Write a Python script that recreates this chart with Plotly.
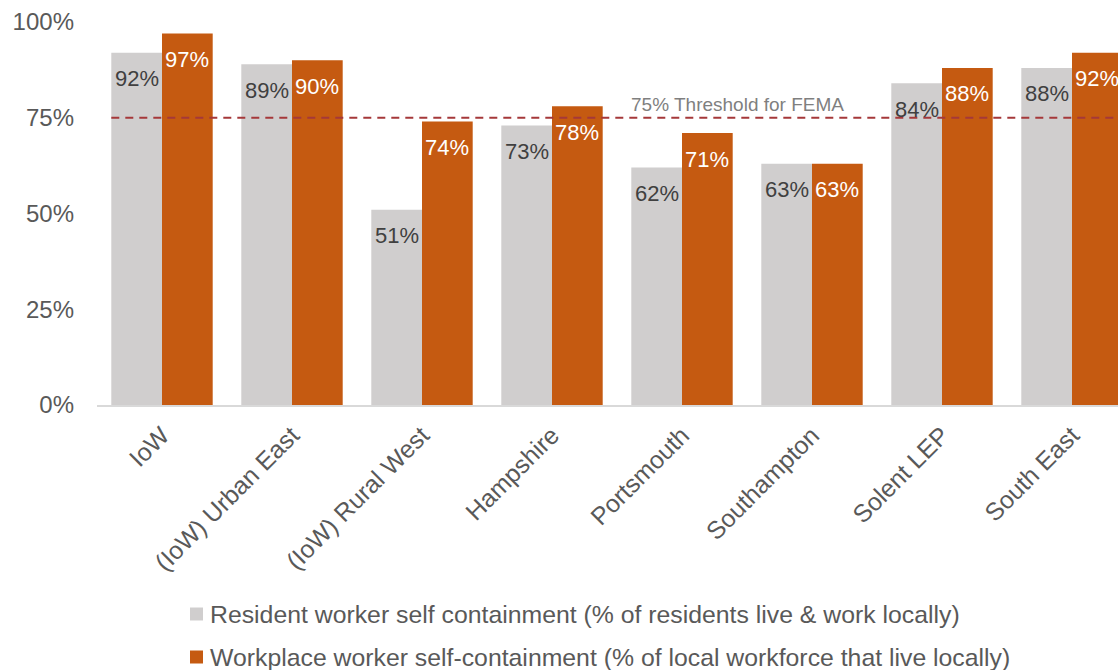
import plotly.graph_objects as go

# Self-containment rates by area (percent)
areas = ["IoW", "(IoW) Urban East", "(IoW) Rural West", "Hampshire",
         "Portsmouth", "Southampton", "Solent LEP", "South East"]
resident = [92, 89, 51, 73, 62, 63, 84, 88]
workplace = [97, 90, 74, 78, 71, 63, 88, 92]
threshold = 75
y_ticks = [0, 25, 50, 75, 100]
y_tick_text = ["0%", "25%", "50%", "75%", "100%"]

series_names = [
    "Resident worker self containment (% of residents live & work locally)",
    "Workplace worker self-containment (% of local workforce that live locally)",
]

GREY = "#D0CECE"
ORANGE = "#C55A11"
FONT = "Liberation Sans, Arial, sans-serif"
TEXT = "#595959"

W, H = 1118, 670
ML, MT, MB = 97, 22, 265
PLOT_W = W - ML
PLOT_H = H - MT - MB


def px_x(px):
    """Pixel x -> paper x."""
    return (px - ML) / PLOT_W


def px_y(py):
    """Pixel y -> paper y."""
    return (H - MB - py) / PLOT_H


fig = go.Figure()
fig.add_trace(go.Bar(x=areas, y=resident, name=series_names[0],
                     marker=dict(color=GREY, line=dict(width=0))))
fig.add_trace(go.Bar(x=areas, y=workplace, name=series_names[1],
                     marker=dict(color=ORANGE, line=dict(width=0))))

BARGAP = 0.22
half = (1 - BARGAP) / 4  # centre offset of each bar within its group

annotations = []
for i, (r, w) in enumerate(zip(resident, workplace)):
    annotations.append(dict(x=i - half, y=r, xref="x", yref="y",
                            text=f"{r}%", showarrow=False, yshift=-26,
                            font=dict(family=FONT, size=22, color="#404040")))
    annotations.append(dict(x=i + half, y=w, xref="x", yref="y",
                            text=f"{w}%", showarrow=False, yshift=-26,
                            font=dict(family=FONT, size=22, color="white")))

annotations.append(dict(x=4.43, y=threshold, xref="x", yref="y",
                        text=f"{threshold}% Threshold for FEMA",
                        showarrow=False, yanchor="bottom", yshift=1,
                        font=dict(family=FONT, size=19, color="#7F7F7F")))

x_end = -0.5 + PLOT_W / 130

shapes = [dict(type="line", xref="x", yref="y",
               x0=-0.5 + BARGAP / 2, x1=x_end, y0=threshold, y1=threshold,
               line=dict(color="#A5383A", width=2, dash="8px,6px"))]

# Legend rows below the chart: colour key square + series name
for name, color, row_y in zip(series_names, [GREY, ORANGE], [614, 657]):
    shapes.append(dict(type="rect", xref="paper", yref="paper",
                       x0=px_x(190), x1=px_x(203),
                       y0=px_y(row_y + 6.5), y1=px_y(row_y - 6.5),
                       fillcolor=color, line=dict(width=0)))
    annotations.append(dict(x=px_x(208), y=px_y(row_y), xref="paper",
                            yref="paper", text=name, showarrow=False,
                            xanchor="left", yanchor="middle",
                            font=dict(family=FONT, size=24.8, color=TEXT)))

fig.update_layout(
    width=W, height=H,
    margin=dict(l=ML, r=0, t=MT, b=MB),
    paper_bgcolor="white", plot_bgcolor="white",
    barmode="group", bargap=BARGAP, bargroupgap=0,
    font=dict(family=FONT, color=TEXT),
    annotations=annotations,
    shapes=shapes,
    showlegend=False,
    xaxis=dict(type="category", range=[-0.5, x_end], tickangle=-45,
               showline=True, linecolor="#D9D9D9", linewidth=2,
               showgrid=False, ticks="", ticklabelstandoff=4,
               automargin=False,
               tickfont=dict(size=24.8, color=TEXT)),
    yaxis=dict(range=[0, 100], tickvals=y_ticks, ticktext=y_tick_text,
               showgrid=False, zeroline=False, showline=False, ticks="",
               ticklabelstandoff=22, automargin=False,
               tickfont=dict(size=24, color=TEXT)),
)

fig.write_html("out.html")
